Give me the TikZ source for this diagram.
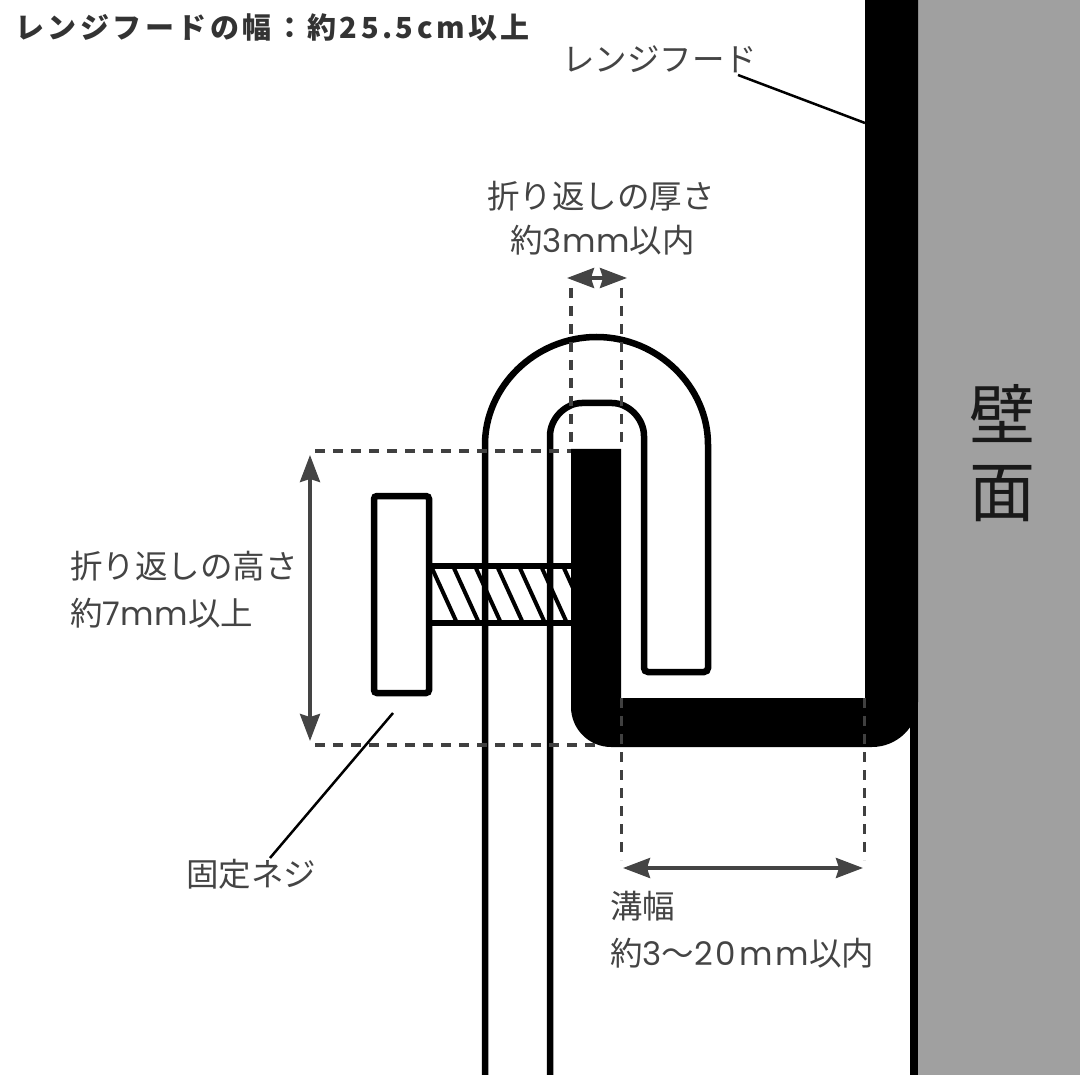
\documentclass[tikz,border=0pt]{standalone}
\usepackage{fontspec}
\setmainfont{Noto Sans CJK JP}
\newfontfamily\titlefont{Noto Sans CJK JP}[LetterSpace=12]
\newfontfamily\latn{Poppins}[LetterSpace=1.5]
\newfontfamily\latnwide{Poppins}[LetterSpace=9]
\usetikzlibrary{arrows.meta}
\definecolor{wallgray}{HTML}{A0A0A0}
\definecolor{labelgray}{HTML}{444444}
\tikzset{
  label text/.style={anchor=west, inner sep=0pt, text=labelgray, font=\fontsize{32.5}{36}\selectfont},
  title text/.style={anchor=west, inner sep=0pt, text=black!80, font=\titlefont\bfseries\fontsize{29}{32}\selectfont},
  wall text/.style={inner sep=0pt, text=black!90, font=\fontsize{66}{70}\selectfont},
  dim tip/.tip={Stealth[length=27pt,width=20pt,inset=3pt]},
  dim line/.style={labelgray, line width=3.5pt, {dim tip}-{dim tip}},
  dash line/.style={black!75, line width=3.5pt, dash pattern=on 10pt off 8pt},
  leader line/.style={black, line width=2.5pt},
  profile line/.style={black, line width=6.5pt, rounded corners=4pt},
  screw line/.style={black, line width=6.5pt},
  screw head/.style={draw=black, fill=white, line width=6.5pt, rounded corners=3pt, minimum width=55pt, minimum height=197pt, inner sep=0pt}
}
\begin{document}
\begin{tikzpicture}[x=1pt, y=-1pt]
  \useasboundingbox (0,0) rectangle (1080,1075);
  % wall
  \fill[wallgray] (918,0) rectangle (1080,1075);
  \fill[black] (910,700) rectangle (918,1075);
  % screw thread
  \begin{scope}
    \clip (432,566) rectangle (571,623);
    \foreach \xtop in {433,455,477,499,521,543,565}
      \draw[black, line width=4pt] (\xtop-2,566) -- (\xtop+24,623);
  \end{scope}
  \node[screw head] (head) at (401.5,594.5) {};
  \coordinate (shafttop) at (571,566);
  \coordinate (shaftbot) at (571,623);
  \draw[screw line] (head.east |- shafttop) -- (shafttop);
  \draw[screw line] (head.east |- shaftbot) -- (shaftbot);
  % hood
  \fill[black] (865,0) -- (918,0) -- (918,702)
    .. controls (918,727) and (897,747) .. (872,747)
    -- (611,747) .. controls (589,747) and (571,729) .. (571,707)
    -- (571,449) -- (621,449) -- (621,698) -- (865,698) -- cycle;
  % holder
  \draw[profile line] (485,1080) -- (485,448.5) arc (180:360:111.5)
    -- (708,672) -- (644,672) -- (644,440)
    .. controls (644,418) and (628,403) .. (608,403) -- (586,403)
    .. controls (566,403) and (550,418) .. (550,440) -- (550,1080);
  % dashes
  \coordinate (tl) at (315,451);
  \coordinate (bl) at (315,745);
  \draw[dash line] (tl) -- (571,451);
  \draw[dash line] (bl) -- (600,745);
  \draw[dash line] (571,288) -- (571,449);
  \draw[dash line] (621.5,288) -- (621.5,449);
  \draw[dash line] (621.5,698) -- (621.5,860);
  \draw[dash line] (864.5,698) -- (864.5,860);
  % dimensions
  \coordinate (ta) at (567,278);
  \coordinate (tb) at (627,278);
  \coordinate (la) at (310,455);
  \coordinate (lb) at (310,741);
  \coordinate (ba) at (623,868);
  \coordinate (bb) at (863,868);
  \draw[dim line] (ta) -- (tb);
  \draw[dim line] (la) -- (lb);
  \draw[dim line] (ba) -- (bb);
  % labels
  \node[title text] (title) at (15,27) {レンジフードの幅：約25.5cm以上};
  \node[label text] (hood) at (562,59) {レンジフード};
  \node[label text] (thick1) at (487,196) {折り返しの厚さ};
  \node[label text] (thick2) at (510,240) {約{\latn 3mm}以内};
  \node[label text] (high1) at (70,566) {折り返しの高さ};
  \node[label text] (high2) at (70,613) {約{\latn 7mm}以上};
  \node[label text] (screw) at (186,874) {固定ネジ};
  \node[label text] (gap1) at (610,906) {溝幅};
  \node[label text] (gap2) at (610,953) {約{\latnwide 3}～{\latnwide 20mm}以内};
  \node[wall text] (wall1) at (1002,414) {壁};
  \node[wall text] (wall2) at (1002,494) {面};
  % leaders
  \coordinate (hoodend) at (865,123);
  \coordinate (hoodstart) at (738,75);
  \coordinate (screwend) at (393,713);
  \coordinate (screwstart) at (270,858);
  \draw[leader line] (hoodstart) -- (hoodend);
  \draw[leader line] (screwstart) -- (screwend);
\end{tikzpicture}
\end{document}
